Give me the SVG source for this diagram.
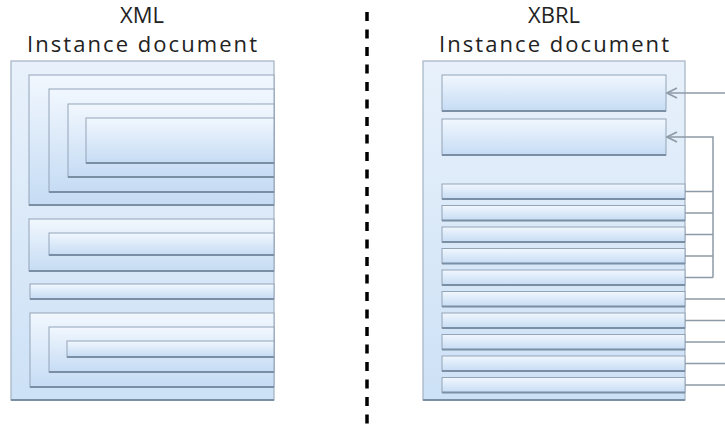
<svg xmlns="http://www.w3.org/2000/svg" width="725" height="433" viewBox="0 0 725 433">
<defs>
<linearGradient id="gOuter" x1="0" y1="0" x2="0" y2="1">
<stop offset="0" stop-color="#e8f1fb"/>
<stop offset="1" stop-color="#cde1f6"/>
</linearGradient>
<linearGradient id="gIn" x1="0" y1="0" x2="0" y2="1">
<stop offset="0" stop-color="#f1f7fe"/>
<stop offset="1" stop-color="#c6dcf4"/>
</linearGradient>
<marker id="arr" viewBox="0 0 12 12" refX="11" refY="6" markerWidth="12" markerHeight="12" markerUnits="userSpaceOnUse" orient="auto">
<path d="M1,1 L11,6 L1,11" fill="none" stroke="#8d9aa7" stroke-width="1.6"/>
</marker>
</defs>
<style>
.title{font-family:"Open Sans","Liberation Sans",sans-serif;font-size:22px;fill:#222;text-anchor:middle}
.outer{fill:url(#gOuter);stroke:#a3b2c2;stroke-width:1.2}
.in{fill:url(#gIn);stroke:#93a4b7;stroke-width:1}
.sh{stroke:#7a8ea4;stroke-width:2.2;fill:none}
.con{fill:none;stroke:#8d9aa7;stroke-width:1.5}
.div{stroke:#000;stroke-width:3.5;stroke-dasharray:9 8.5;fill:none}
</style>
<rect width="725" height="433" fill="#fff"/>
<text class="title" x="142" y="23">XML</text>
<text class="title" x="142" y="52" textLength="230" lengthAdjust="spacing">Instance document</text>
<text class="title" x="554" y="23">XBRL</text>
<text class="title" x="554" y="52" textLength="230" lengthAdjust="spacing">Instance document</text>
<line class="div" x1="367" y1="12" x2="367" y2="425"/>

<g id="xml-doc">
<rect class="outer" x="11" y="61" width="263" height="339"/>
<line class="sh" x1="11" y1="400" x2="274" y2="400"/>
</g>
<g id="xml-e1"><rect class="in" x="29" y="75" width="245" height="130"/><line class="sh" x1="29" y1="205" x2="274" y2="205"/></g>
<g id="xml-e2"><rect class="in" x="49" y="89" width="225" height="103"/><line class="sh" x1="49" y1="192" x2="274" y2="192"/></g>
<g id="xml-e3"><rect class="in" x="68" y="104" width="206" height="73"/><line class="sh" x1="68" y1="177" x2="274" y2="177"/></g>
<g id="xml-e4"><rect class="in" x="86" y="118" width="188" height="45"/><line class="sh" x1="86" y1="163" x2="274" y2="163"/></g>
<g id="xml-e5"><rect class="in" x="29" y="219" width="245" height="52"/><line class="sh" x1="29" y1="271" x2="274" y2="271"/></g>
<g id="xml-e6"><rect class="in" x="49" y="233" width="225" height="22"/><line class="sh" x1="49" y1="255" x2="274" y2="255"/></g>
<g id="xml-e7"><rect class="in" x="30" y="284" width="244" height="15"/><line class="sh" x1="30" y1="299" x2="274" y2="299"/></g>
<g id="xml-e8"><rect class="in" x="30" y="313" width="244" height="74"/><line class="sh" x1="30" y1="387" x2="274" y2="387"/></g>
<g id="xml-e9"><rect class="in" x="49" y="327" width="225" height="45"/><line class="sh" x1="49" y1="372" x2="274" y2="372"/></g>
<g id="xml-e10"><rect class="in" x="67" y="341" width="207" height="16"/><line class="sh" x1="67" y1="357" x2="274" y2="357"/></g>

<g id="xbrl-doc">
<rect class="outer" x="423" y="61" width="262" height="339"/>
<line class="sh" x1="423" y1="400" x2="685" y2="400"/>
</g>
<g id="xbrl-ctx1"><rect class="in" x="442" y="75" width="224" height="36"/><line class="sh" x1="442" y1="111" x2="666" y2="111"/></g>
<g id="xbrl-ctx2"><rect class="in" x="442" y="119" width="224" height="36"/><line class="sh" x1="442" y1="155" x2="666" y2="155"/></g>
<g id="xbrl-f1"><rect class="in" x="442" y="184" width="243" height="15"/><line class="sh" x1="442" y1="199" x2="685" y2="199"/></g>
<g id="xbrl-f2"><rect class="in" x="442" y="205.5" width="243" height="15"/><line class="sh" x1="442" y1="220.5" x2="685" y2="220.5"/></g>
<g id="xbrl-f3"><rect class="in" x="442" y="227" width="243" height="15"/><line class="sh" x1="442" y1="242" x2="685" y2="242"/></g>
<g id="xbrl-f4"><rect class="in" x="442" y="248.5" width="243" height="15"/><line class="sh" x1="442" y1="263.5" x2="685" y2="263.5"/></g>
<g id="xbrl-f5"><rect class="in" x="442" y="270" width="243" height="15"/><line class="sh" x1="442" y1="285" x2="685" y2="285"/></g>
<g id="xbrl-f6"><rect class="in" x="442" y="291.5" width="243" height="15"/><line class="sh" x1="442" y1="306.5" x2="685" y2="306.5"/></g>
<g id="xbrl-f7"><rect class="in" x="442" y="313" width="243" height="15"/><line class="sh" x1="442" y1="328" x2="685" y2="328"/></g>
<g id="xbrl-f8"><rect class="in" x="442" y="334.5" width="243" height="15"/><line class="sh" x1="442" y1="349.5" x2="685" y2="349.5"/></g>
<g id="xbrl-f9"><rect class="in" x="442" y="356" width="243" height="15"/><line class="sh" x1="442" y1="371" x2="685" y2="371"/></g>
<g id="xbrl-f10"><rect class="in" x="442" y="377.5" width="243" height="15"/><line class="sh" x1="442" y1="392.5" x2="685" y2="392.5"/></g>

<g id="connectors">
<path class="con" d="M725,93 H667" marker-end="url(#arr)"/>
<path class="con" d="M713,277.5 V137 H667" marker-end="url(#arr)"/>
<path class="con" d="M685,191.5 H713 M685,213 H713 M685,234.5 H713 M685,256 H713 M685,277.5 H713"/>
<path class="con" d="M685,299 H725 M685,320.5 H725 M685,342 H725 M685,363.5 H725 M685,385 H725"/>
</g>
</svg>
